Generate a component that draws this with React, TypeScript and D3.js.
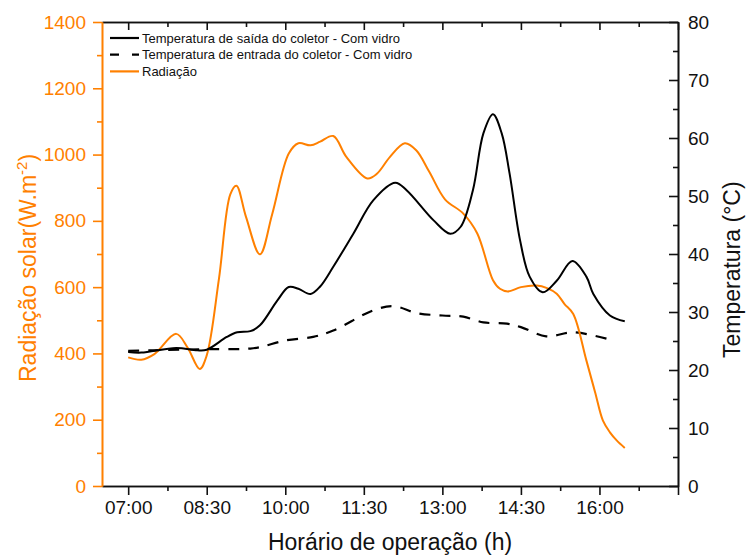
import React, { useEffect, useRef } from "react";
import * as d3 from "d3";

// radiation (W/m2)
const radTimes = ["07:00", "07:15", "07:30", "07:55", "08:08", "08:22", "08:30", "08:44", "08:57", "09:04", "09:15", "09:31", "09:45", "10:04", "10:15", "10:29", "10:40", "10:55", "11:10", "11:34", "11:45", "12:00", "12:17", "12:30", "12:45", "13:03", "13:24", "13:40", "13:58", "14:06", "14:15", "14:30", "14:48", "15:00", "15:11", "15:20", "15:30", "15:45", "15:55", "16:04", "16:12", "16:20", "16:29"];
const radValues = [388, 381, 398, 459, 418, 353, 394, 625, 880, 906, 812, 699, 820, 1003, 1034, 1028, 1039, 1056, 993, 928, 942, 993, 1034, 1013, 948, 865, 822, 762, 621, 595, 587, 600, 605, 597, 580, 549, 519, 379, 283, 197, 162, 137, 115];

// outlet temperature (°C)
const outTimes = ["07:00", "07:15", "07:55", "08:19", "08:30", "08:53", "09:05", "09:20", "09:31", "09:51", "10:04", "10:15", "10:29", "10:40", "10:55", "11:18", "11:41", "12:06", "12:19", "12:50", "13:09", "13:21", "13:35", "13:47", "13:58", "14:08", "14:17", "14:29", "14:40", "14:55", "15:11", "15:29", "15:45", "15:53", "16:12", "16:29"];
const outValues = [23.1, 23.0, 23.8, 23.4, 23.5, 25.7, 26.5, 26.7, 27.7, 32.0, 34.3, 34.0, 33.1, 34.4, 37.8, 43.5, 49.3, 52.3, 51.0, 45.8, 43.5, 44.7, 51.0, 60.8, 64.1, 60.8, 53.9, 42.4, 36.1, 33.4, 35.4, 38.8, 36.1, 33.1, 29.4, 28.4];

// inlet temperature (°C)
const inTimes = ["07:00", "07:30", "08:00", "08:30", "09:00", "09:20", "09:33", "10:00", "10:32", "10:55", "11:41", "12:04", "12:31", "13:00", "13:24", "13:47", "14:14", "14:30", "14:59", "15:30", "16:16"];
const inValues = [23.3, 23.4, 23.5, 23.6, 23.6, 23.7, 24.0, 25.1, 25.7, 26.8, 30.3, 31.0, 29.8, 29.4, 29.2, 28.2, 28.0, 27.4, 25.8, 26.5, 25.1];

const xMajorTicks = ["07:00", "08:30", "10:00", "11:30", "13:00", "14:30", "16:00", "17:30"];
const xMinorTicks = ["07:45", "09:15", "10:45", "12:15", "13:45", "15:15", "16:45"];
const xTickLabels = ["07:00", "08:30", "10:00", "11:30", "13:00", "14:30", "16:00"];
const xDomain = ["06:30", "17:30"];
const radTicks = [0, 200, 400, 600, 800, 1000, 1200, 1400];
const radMinor = [100, 300, 500, 700, 900, 1100, 1300];
const tempTicks = [0, 10, 20, 30, 40, 50, 60, 70, 80];
const tempMinor = [5, 15, 25, 35, 45, 55, 65, 75];

const legendLabels = [
  "Temperatura de saída do coletor - Com vidro",
  "Temperatura de entrada do coletor - Com vidro",
  "Radiação",
];

const ORANGE = "#ff8000";
const FONT = "'Liberation Sans', Arial, sans-serif";

const toMin = (s: string) => {
  const [h, m] = s.split(":").map(Number);
  return h * 60 + m;
};

export default function App() {
  const svgRef = useRef<SVGSVGElement>(null);

  useEffect(() => {
    const svg = d3.select(svgRef.current);
    svg.selectAll("*").remove();

    const margin = { left: 102, top: 22 };
    const width = 576;
    const height = 464;

    const g = svg.append("g").attr("transform", `translate(${margin.left},${margin.top})`);

    const x = d3.scaleLinear().domain(xDomain.map(toMin)).range([0, width]);
    const yL = d3.scaleLinear().domain([0, 1400]).range([height, 0]);
    const yR = d3.scaleLinear().domain([0, 80]).range([height, 0]);

    const fmtX = (d: number) => {
      const lab = xTickLabels.find(t => toMin(t) === d);
      return lab || "";
    };

    const style = (sel, color) => {
      sel.selectAll("path").attr("stroke", color).attr("stroke-width", 1.6);
      sel.selectAll("line").attr("stroke", color).attr("stroke-width", 1.6);
      sel.selectAll("text").attr("fill", color).style("font-family", FONT).style("font-size", "19px");
    };

    // bottom axis
    const bottom = g.append("g").attr("transform", `translate(0,${height})`)
      .call(d3.axisBottom(x).tickValues(xMajorTicks.map(toMin)).tickFormat(fmtX).tickSize(9).tickSizeOuter(0).tickPadding(6));
    style(bottom, "#111");
    const bottomMinor = g.append("g").attr("transform", `translate(0,${height})`)
      .call(d3.axisBottom(x).tickValues(xMinorTicks.map(toMin)).tickFormat(() => "").tickSize(5).tickSizeOuter(0));
    style(bottomMinor, "#111");

    // top axis (ticks inward)
    const top = g.append("g")
      .call(d3.axisTop(x).tickValues(xMajorTicks.map(toMin)).tickFormat(() => "").tickSize(-8).tickSizeOuter(0));
    style(top, "#111");
    const topMinor = g.append("g")
      .call(d3.axisTop(x).tickValues(xMinorTicks.map(toMin)).tickFormat(() => "").tickSize(-5).tickSizeOuter(0));
    style(topMinor, "#111");

    // right axis (ticks inward)
    const right = g.append("g").attr("transform", `translate(${width},0)`)
      .call(d3.axisRight(yR).tickValues(tempTicks).tickFormat(d3.format("d")).tickSize(-9).tickSizeOuter(0).tickPadding(10));
    style(right, "#111");
    const rightMinor = g.append("g").attr("transform", `translate(${width},0)`)
      .call(d3.axisRight(yR).tickValues(tempMinor).tickFormat(() => "").tickSize(-5).tickSizeOuter(0));
    style(rightMinor, "#111");

    // left axis
    const left = g.append("g")
      .call(d3.axisLeft(yL).tickValues(radTicks).tickFormat(d3.format("d")).tickSize(9).tickSizeOuter(0).tickPadding(7));
    style(left, ORANGE);
    const leftMinor = g.append("g")
      .call(d3.axisLeft(yL).tickValues(radMinor).tickFormat(() => "").tickSize(5).tickSizeOuter(0));
    style(leftMinor, ORANGE);

    // lines
    const lineRad = d3.line<number>()
      .x((_, i) => x(toMin(radTimes[i])))
      .y(d => yL(d))
      .curve(d3.curveCatmullRom.alpha(0.5));
    const lineOut = d3.line<number>()
      .x((_, i) => x(toMin(outTimes[i])))
      .y(d => yR(d))
      .curve(d3.curveCatmullRom.alpha(0.5));
    const lineIn = d3.line<number>()
      .x((_, i) => x(toMin(inTimes[i])))
      .y(d => yR(d))
      .curve(d3.curveCatmullRom.alpha(0.5));

    g.append("path").attr("d", lineIn(inValues)).attr("fill", "none")
      .attr("stroke", "#000").attr("stroke-width", 2.2).attr("stroke-dasharray", "11,9");
    g.append("path").attr("d", lineRad(radValues)).attr("fill", "none")
      .attr("stroke", ORANGE).attr("stroke-width", 2);
    g.append("path").attr("d", lineOut(outValues)).attr("fill", "none")
      .attr("stroke", "#000").attr("stroke-width", 2);

    // legend
    const legendStyles = [
      { color: "#000", dash: null },
      { color: "#000", dash: "9,13" },
      { color: ORANGE, dash: null },
    ];
    const leg = svg.append("g");
    legendLabels.forEach((lab, i) => {
      const yy = 38 + i * 16.7;
      leg.append("line").attr("x1", 110).attr("x2", 139).attr("y1", yy).attr("y2", yy)
        .attr("stroke", legendStyles[i].color).attr("stroke-width", 2.2)
        .attr("stroke-dasharray", legendStyles[i].dash);
      leg.append("text").attr("x", 142).attr("y", yy + 4.6).text(lab)
        .style("font-family", FONT).style("font-size", "13px").attr("fill", "#111");
    });

    // axis titles
    const leftTitle = svg.append("text")
      .attr("transform", "translate(36,382) rotate(-90)")
      .attr("fill", ORANGE).style("font-family", FONT).style("font-size", "23px");
    leftTitle.append("tspan").text("Radiação solar(W.m");
    leftTitle.append("tspan").attr("dy", -9).style("font-size", "15px").text("-2");
    leftTitle.append("tspan").attr("dy", 9).text(")");

    svg.append("text")
      .attr("transform", "translate(740,358) rotate(-90)")
      .attr("fill", "#111").style("font-family", FONT).style("font-size", "23px")
      .text("Temperatura (°C)");

    svg.append("text")
      .attr("x", 390).attr("y", 550).attr("text-anchor", "middle")
      .attr("fill", "#111").style("font-family", FONT).style("font-size", "23px")
      .text("Horário de operação (h)");
  }, []);

  return (
    <svg ref={svgRef} width={746} height={557}
      style={{ position: "absolute", left: 0, top: 0, background: "#fff" }} />
  );
}
